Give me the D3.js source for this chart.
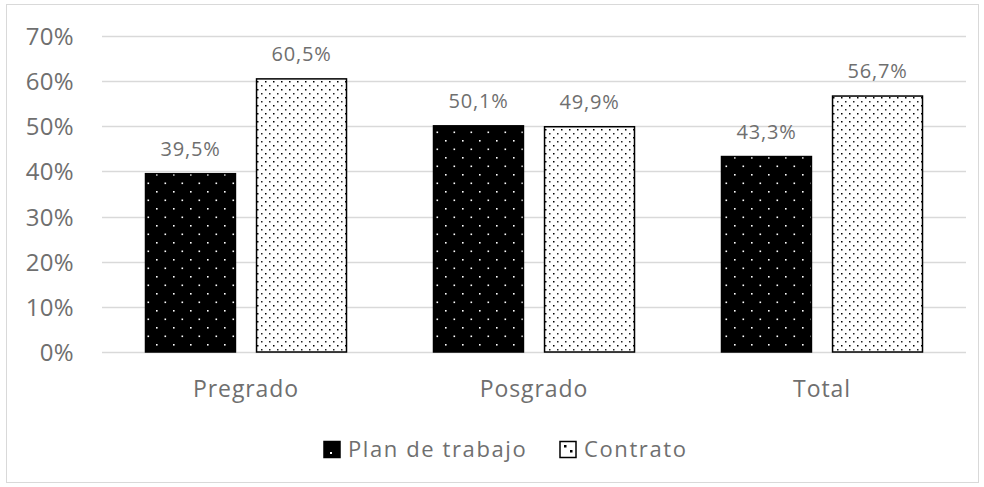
<!DOCTYPE html>
<html>
<head>
<meta charset="utf-8">
<script src="https://cdn.jsdelivr.net/npm/d3@7"></script>
<style>
  body { margin: 0; background: #fff; }
  svg text { font-family: "Open Sans", sans-serif; fill: #6f6f6f; }
</style>
</head>
<body>
<svg id="chart" width="984" height="487"></svg>
<script>
// data
const categories = ['Pregrado', 'Posgrado', 'Total'];
const seriesNames = ['Plan de trabajo', 'Contrato'];
const planValues = [39.5, 50.1, 43.3];
const contratoValues = [60.5, 49.9, 56.7];
const yTicks = [0, 10, 20, 30, 40, 50, 60, 70];

const W = 984, H = 487;
const plot = { left: 102, right: 966, top: 36, bottom: 352 };

const svg = d3.select('#chart');

// chart border
svg.append('rect')
  .attr('x', 6.5).attr('y', 4.5)
  .attr('width', W - 12).attr('height', H - 9)
  .attr('fill', '#fff').attr('stroke', '#d9d9d9');

// patterns: dark bar with white dots, light bar with black dots
const defs = svg.append('defs');
const pDark = defs.append('pattern')
  .attr('id', 'pat-dark').attr('patternUnits', 'userSpaceOnUse')
  .attr('width', 17).attr('height', 17);
pDark.append('rect').attr('width', 17).attr('height', 17).attr('fill', '#000');
pDark.append('rect').attr('x', 3).attr('y', 4).attr('width', 1.6).attr('height', 1.6).attr('fill', '#fff');
pDark.append('rect').attr('x', 11.5).attr('y', 12.5).attr('width', 1.6).attr('height', 1.6).attr('fill', '#fff');

const pLight = defs.append('pattern')
  .attr('id', 'pat-light').attr('patternUnits', 'userSpaceOnUse')
  .attr('width', 8).attr('height', 8);
pLight.append('rect').attr('width', 8).attr('height', 8).attr('fill', '#fff');
pLight.append('rect').attr('x', 1).attr('y', 1).attr('width', 1.5).attr('height', 1.5).attr('fill', '#000');
pLight.append('rect').attr('x', 5).attr('y', 5).attr('width', 1.5).attr('height', 1.5).attr('fill', '#222');

const y = d3.scaleLinear().domain([0, 70]).range([plot.bottom, plot.top]);
const x0 = d3.scaleBand().domain(categories).range([plot.left, plot.right]).paddingInner(0).paddingOuter(0);
const x1 = d3.scaleBand().domain(seriesNames).range([0, 201]).paddingInner(0.19);

// gridlines
svg.append('g').selectAll('line')
  .data(yTicks)
  .join('line')
    .attr('x1', plot.left).attr('x2', plot.right)
    .attr('y1', d => Math.round(y(d)) + 0.5).attr('y2', d => Math.round(y(d)) + 0.5)
    .attr('stroke', '#d9d9d9').attr('stroke-width', 1.3);

// y tick labels
svg.append('g').selectAll('text')
  .data(yTicks)
  .join('text')
    .attr('x', 74).attr('y', d => y(d) + 9)
    .attr('text-anchor', 'end')
    .attr('font-size', 24)
    .attr('letter-spacing', 0.3)
    .text(d => d + '%');

// bars
const rows = categories.map((c, i) => [
  { cat: c, s: seriesNames[0], v: planValues[i] },
  { cat: c, s: seriesNames[1], v: contratoValues[i] }
]).flat();

const groupOffset = (x0.bandwidth() - 201) / 2;
const bx = d => x0(d.cat) + groupOffset + x1(d.s);

svg.append('g').selectAll('rect')
  .data(rows)
  .join('rect')
    .attr('x', bx)
    .attr('y', d => y(d.v))
    .attr('width', x1.bandwidth())
    .attr('height', d => y(0) - y(d.v))
    .attr('fill', d => d.s === seriesNames[0] ? 'url(#pat-dark)' : 'url(#pat-light)')
    .attr('stroke', '#000')
    .attr('stroke-width', 1.5);

// value labels
svg.append('g').selectAll('text')
  .data(rows)
  .join('text')
    .attr('x', d => bx(d) + x1.bandwidth() / 2)
    .attr('y', d => y(d.v) - 18)
    .attr('text-anchor', 'middle')
    .attr('font-size', 20)
    .attr('letter-spacing', 0.8)
    .text(d => d.v.toFixed(1).replace('.', ',') + '%');

// category labels
svg.append('g').selectAll('text')
  .data(categories)
  .join('text')
    .attr('x', d => x0(d) + x0.bandwidth() / 2)
    .attr('y', 397)
    .attr('text-anchor', 'middle')
    .attr('font-size', 23)
    .attr('letter-spacing', 0.9)
    .text(d => d);

// legend
const legend = svg.append('g');
const legendX = [324, 560];
seriesNames.forEach((name, i) => {
  const lx = legendX[i];
  legend.append('rect')
    .attr('x', lx).attr('y', 441.5)
    .attr('width', 16).attr('height', 16)
    .attr('fill', i === 0 ? '#000' : '#fff')
    .attr('stroke', '#000').attr('stroke-width', 1.5);
  if (i === 0) {
    legend.append('rect').attr('x', lx + 6).attr('y', 452).attr('width', 2).attr('height', 2).attr('fill', '#fff');
  } else {
    legend.append('rect').attr('x', lx + 4).attr('y', 445).attr('width', 2.5).attr('height', 2.5).attr('fill', '#000');
    legend.append('rect').attr('x', lx + 10).attr('y', 450).attr('width', 2.5).attr('height', 2.5).attr('fill', '#000');
  }
  legend.append('text')
    .attr('x', lx + 24).attr('y', 457)
    .attr('font-size', 22)
    .attr('letter-spacing', 1.6)
    .text(name);
});
</script>
</body>
</html>
